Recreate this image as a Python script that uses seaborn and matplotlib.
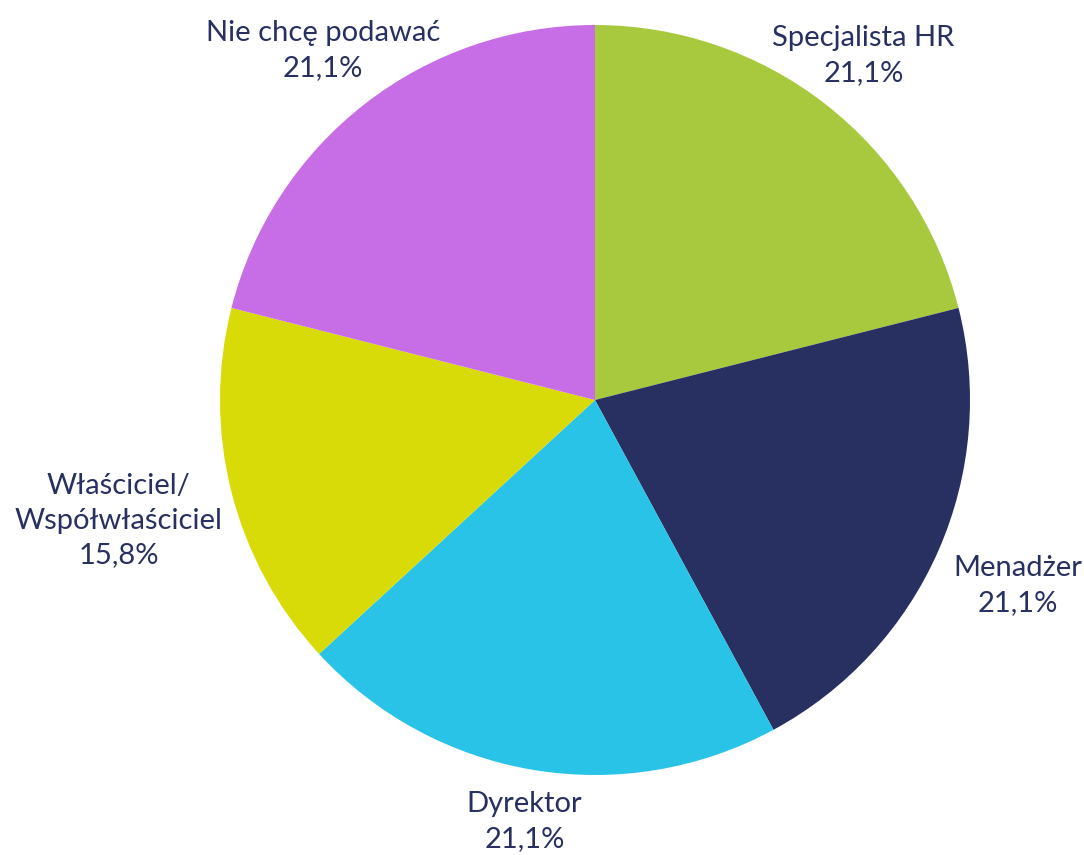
import numpy as np
import seaborn as sns
import matplotlib.pyplot as plt

sns.set_theme(style="white")
plt.rcParams['font.family'] = ['Lato', 'DejaVu Sans']

categories = ["Specjalista HR", "Menadżer", "Dyrektor", "Właściciel/\nWspółwłaściciel", "Nie chcę podawać"]
values = [4, 4, 4, 3, 4]
pct_labels = ["21,1%", "21,1%", "21,1%", "15,8%", "21,1%"]
colors = ["#A8C83E", "#273060", "#29C3E8", "#D9DB08", "#C76DE6"]
text_color = "#273060"

fig = plt.figure(figsize=(10.84, 8.55), dpi=100)
ax = fig.add_axes([220 / 1084, 80 / 855, 750 / 1084, 750 / 855])

wedges, _ = ax.pie(values, colors=colors, startangle=90, counterclock=False,
                   radius=1.0, wedgeprops=dict(linewidth=0))
ax.set_xlim(-1, 1)
ax.set_ylim(-1, 1)
ax.set_aspect("equal")
ax.axis("off")

# label distances (in radii) tuned per slice
dists = [1.165, 1.23, 1.14, 1.31, 1.18]
for w, name, pct, d in zip(wedges, categories, pct_labels, dists):
    ang = np.deg2rad((w.theta1 + w.theta2) / 2)
    x, y = d * np.cos(ang), d * np.sin(ang)
    ax.text(x, y, f"{name}\n{pct}", ha="center", va="center", fontsize=21,
            color=text_color, linespacing=1.42, clip_on=False)

plt.savefig("out.png", dpi=100)
